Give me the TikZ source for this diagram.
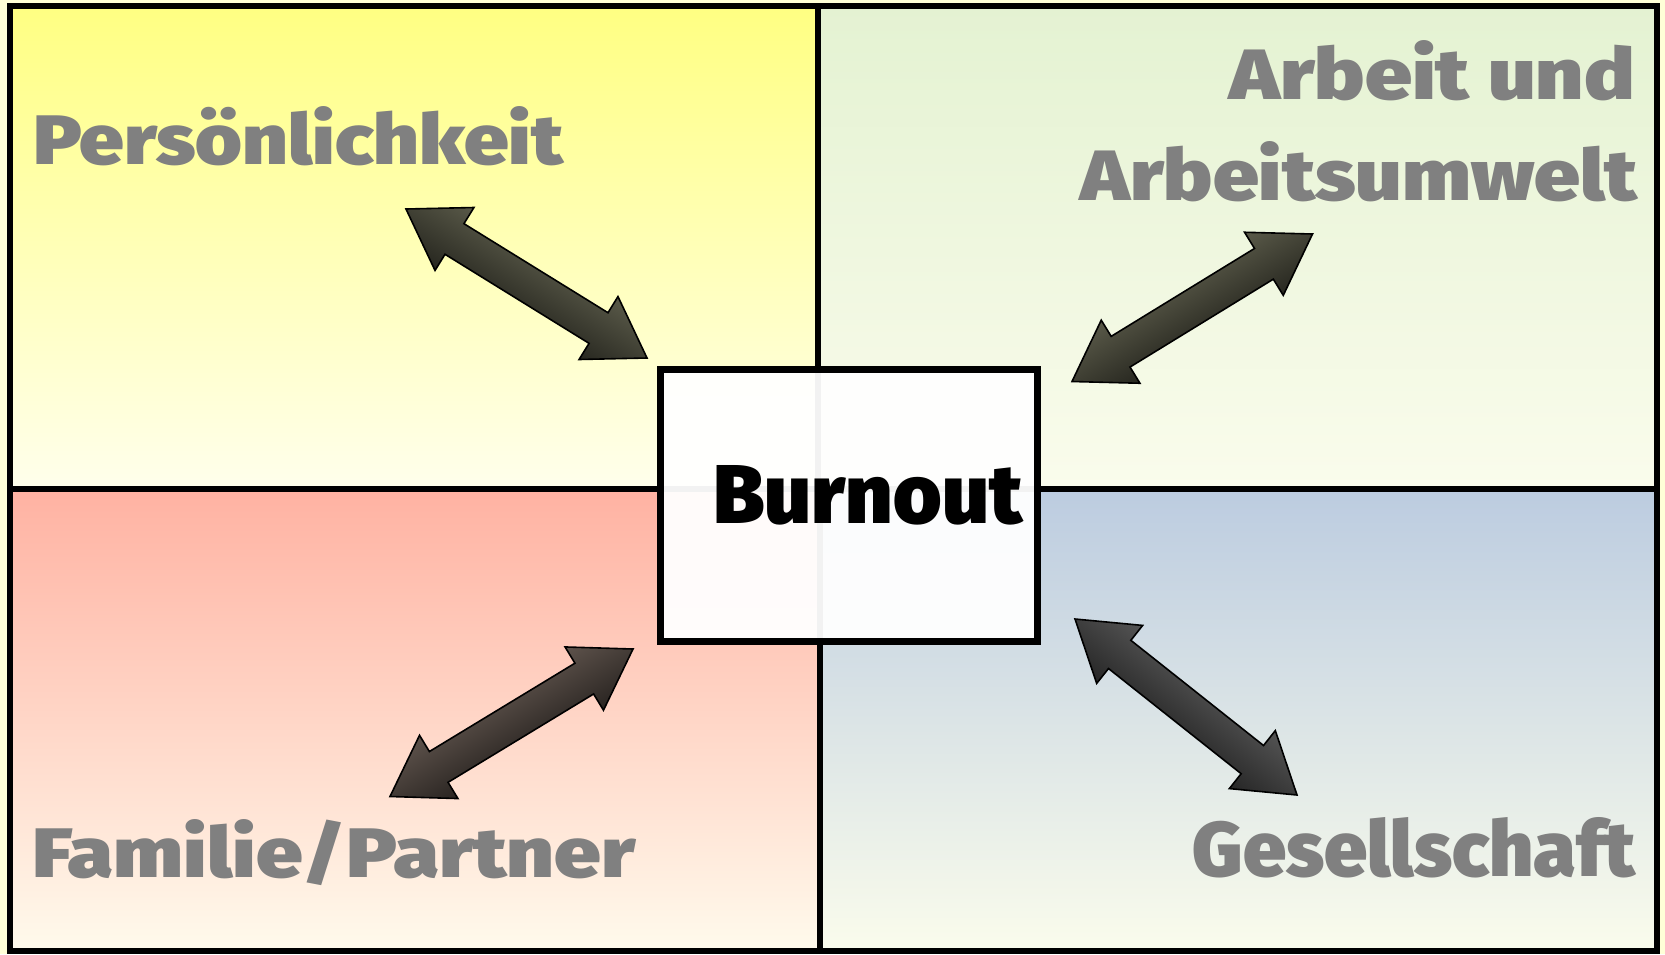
\documentclass[tikz,border=0pt]{standalone}
\usepackage{fontspec}
\usepackage{graphicx}
\usetikzlibrary{calc}
\newfontfamily\heavyfont{Fira Sans Black}
\definecolor{bgyel}{RGB}{255,255,215}
\definecolor{tlTop}{RGB}{255,255,130}
\definecolor{tlBot}{RGB}{255,255,236}
\definecolor{trTop}{RGB}{228,242,210}
\definecolor{trBot}{RGB}{250,252,236}
\definecolor{blTop}{RGB}{255,178,162}
\definecolor{blBot}{RGB}{255,250,236}
\definecolor{brTop}{RGB}{188,204,224}
\definecolor{brBot}{RGB}{250,252,236}
\definecolor{labelgray}{RGB}{128,128,128}
\definecolor{olivegray}{RGB}{128,128,104}
\definecolor{browngray}{RGB}{134,118,108}
\definecolor{plaingray}{RGB}{122,122,122}
\newcommand{\dblarrow}[3]{%
  \shadedraw[#3] (#1)
    -- ($(#1)!57pt!(#2)!37pt!90:(#2)$)
    -- ($(#1)!57pt!(#2)!18pt!90:(#2)$)
    -- ($(#2)!57pt!(#1)!18pt!-90:(#1)$)
    -- ($(#2)!57pt!(#1)!37pt!-90:(#1)$)
    -- (#2)
    -- ($(#2)!57pt!(#1)!37pt!90:(#1)$)
    -- ($(#2)!57pt!(#1)!18pt!90:(#1)$)
    -- ($(#1)!57pt!(#2)!18pt!-90:(#2)$)
    -- ($(#1)!57pt!(#2)!37pt!-90:(#2)$)
    -- cycle;}
\tikzset{
  quad/.style={draw=black, line width=6pt},
  lbl/.style={text=labelgray, inner sep=0pt, font=\heavyfont},
  dbl/.style={draw=black, line width=1.6pt, line join=miter},
}
\begin{document}
\begin{tikzpicture}[x=1pt, y=-1pt]
\fill[bgyel] (0,0) rectangle (1665,954);
\useasboundingbox (0,0) rectangle (1665,954);
% quadrants
\shade[top color=tlTop, bottom color=tlBot] (10,6) rectangle (818,489);
\shade[top color=trTop, bottom color=trBot] (818,6) rectangle (1657,489);
\shade[top color=blTop, bottom color=blBot] (10,489) rectangle (820,951);
\shade[top color=brTop, bottom color=brBot] (820,489) rectangle (1657,951);
\draw[quad] (10,6) rectangle (818,489);
\draw[quad] (818,6) rectangle (1657,489);
\draw[quad] (10,489) rectangle (820,951);
\draw[quad] (820,489) rectangle (1657,951);
% labels
\node[lbl, anchor=base west] (pers) at (33,164) {\resizebox{530pt}{58pt}{Persönlichkeit}};
\node[lbl, anchor=base east] (arb1) at (1635,99) {\resizebox{405pt}{59pt}{Arbeit und}};
\node[lbl, anchor=base east] (arb2) at (1638,200) {\resizebox{557pt}{59pt}{Arbeitsumwelt}};
\node[lbl, anchor=base west] (fam) at (32,877) {\resizebox{603pt}{58pt}{Familie/Partner}};
\node[lbl, anchor=base east] (ges) at (1636,876) {\resizebox{443pt}{59pt}{Gesellschaft}};
% center box
\node[draw=black, line width=7pt, fill=white, fill opacity=0.95, draw opacity=1,
      minimum width=377pt, minimum height=272pt, inner sep=0pt] (burnout) at (848.5,505) {};
\node[inner sep=0pt, anchor=base west, text=black, font=\heavyfont] (burnoutlabel) at (713,523) {\resizebox{309pt}{58pt}{Burnout}};
% arrow tips
\coordinate (a1) at (406,209);
\coordinate (b1) at (647,358);
\coordinate (a2) at (1312.5,234);
\coordinate (b2) at (1072,381.5);
\coordinate (a3) at (633,649);
\coordinate (b3) at (390,796.5);
\coordinate (a4) at (1075,619);
\coordinate (b4) at (1297,795);
% arrows
\dblarrow{a1}{b1}{dbl, top color=olivegray, bottom color=black, shading angle=-32}
\dblarrow{a2}{b2}{dbl, top color=olivegray, bottom color=black, shading angle=31}
\dblarrow{a3}{b3}{dbl, top color=browngray, bottom color=black, shading angle=31}
\dblarrow{a4}{b4}{dbl, top color=plaingray, bottom color=black, shading angle=-38}
\end{tikzpicture}
\end{document}
